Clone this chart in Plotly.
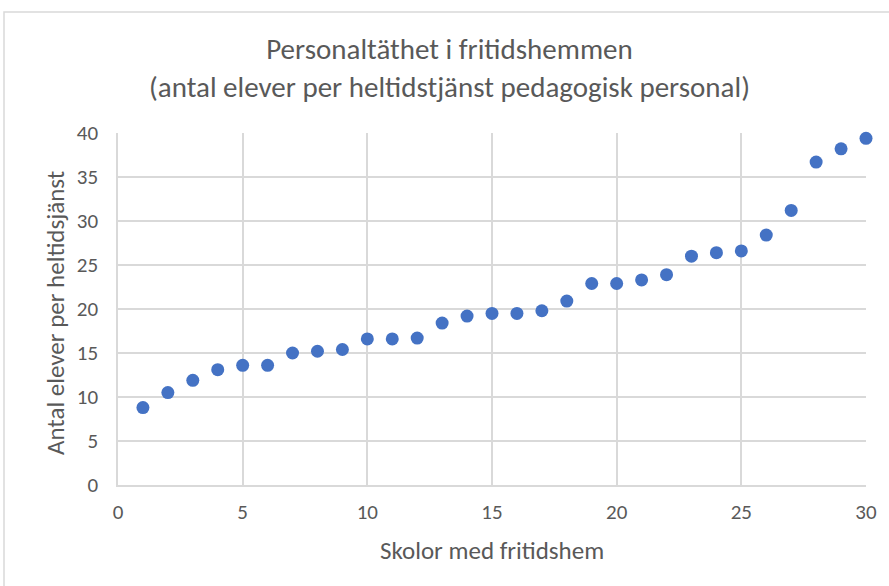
import plotly.graph_objects as go

skolor = list(range(1, 31))
elever_per_tjanst = [8.8, 10.5, 11.9, 13.1, 13.6, 13.6, 15.0, 15.2, 15.4, 16.6,
                     16.6, 16.7, 18.4, 19.2, 19.5, 19.5, 19.8, 20.9, 22.9, 22.9,
                     23.3, 23.9, 26.0, 26.4, 26.6, 28.4, 31.2, 36.7, 38.2, 39.4]

title_text = "Personaltäthet i fritidshemmen<br>(antal elever per heltidstjänst pedagogisk personal)"
x_title = "Skolor med fritidshem"
y_title = "Antal elever per heltidsjänst"

FONT = "Liberation Sans Narrow, Carlito, Liberation Sans, sans-serif"
GRAY = "#595959"
GRID = "#D9D9D9"

L, R, T, B = 118, 23, 133, 101
W, H = 889, 586
pw, ph = W - L - R, H - T - B

def px_x(px):
    return (px - L) / pw

def px_y(py):
    return (H - B - py) / ph

fig = go.Figure()
fig.add_trace(go.Scatter(
    x=skolor, y=elever_per_tjanst, mode="markers",
    marker=dict(size=13, color="#4472C4", line=dict(width=0)),
    cliponaxis=False, showlegend=False,
))

fig.update_layout(
    width=W, height=H,
    margin=dict(l=L, r=R, t=T, b=B),
    paper_bgcolor="white", plot_bgcolor="white",
    font=dict(family=FONT, color=GRAY, size=21),
    xaxis=dict(range=[0, 30], dtick=5, tick0=0, showgrid=True, gridcolor=GRID, gridwidth=1.5,
               zeroline=False, showline=True, linecolor=GRID, linewidth=1.5,
               ticks="", ticklabelstandoff=7,
               tickfont=dict(family=FONT, size=21, color=GRAY)),
    yaxis=dict(range=[0, 40], dtick=5, tick0=0, showgrid=True, gridcolor=GRID, gridwidth=1.5,
               zeroline=False, showline=True, linecolor=GRID, linewidth=1.5,
               ticks="", ticklabelstandoff=14,
               tickfont=dict(family=FONT, size=21, color=GRAY)),
)

fig.add_annotation(text=title_text, xref="paper", yref="paper",
                   x=px_x(W / 2 + 5), y=px_y(68), xanchor="center", yanchor="middle",
                   showarrow=False, font=dict(family=FONT, size=29, color=GRAY))
fig.add_annotation(text=x_title, xref="paper", yref="paper",
                   x=px_x(492), y=px_y(550), xanchor="center", yanchor="middle",
                   showarrow=False, font=dict(family=FONT, size=25, color=GRAY))
fig.add_annotation(text=y_title, xref="paper", yref="paper",
                   x=px_x(55), y=px_y(313), xanchor="center", yanchor="middle",
                   textangle=-90, showarrow=False, font=dict(family=FONT, size=25, color=GRAY))

# chart border (partially visible, top and left)
fig.add_shape(type="rect", xref="paper", yref="paper",
              x0=px_x(4), x1=px_x(W + 20),
              y0=px_y(H + 20), y1=px_y(12),
              line=dict(color=GRID, width=1.5), layer="below")

fig.write_html("out.html", config={"displayModeBar": False},
               post_script="document.body.style.margin='0';document.body.style.overflow='hidden';")
